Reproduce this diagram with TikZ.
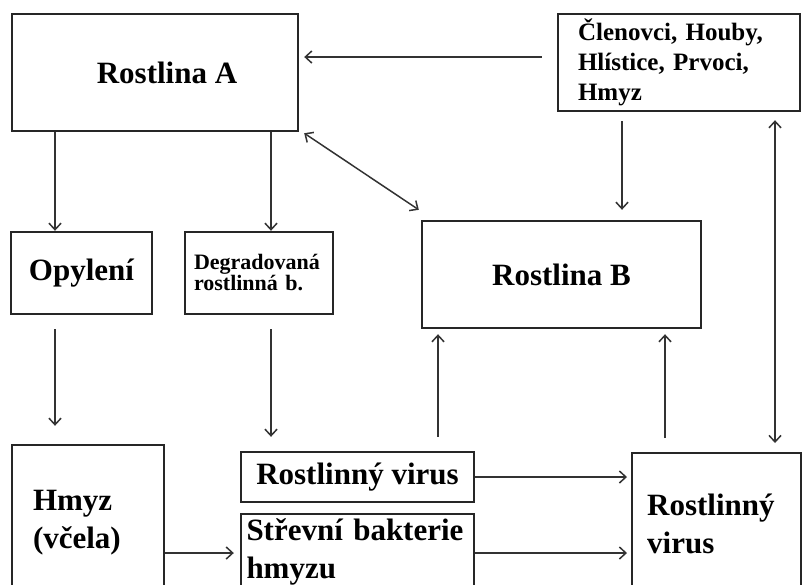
\documentclass[tikz,border=0pt]{standalone}
\usepackage{fontspec}
\setmainfont{Liberation Serif}
\usetikzlibrary{arrows.meta}

\begin{document}
\begin{tikzpicture}[x=1pt, y=-1pt, >={Straight Barb[length=6.5pt,width=12pt]},
  box/.style={draw=black!85, line width=2.4pt, inner sep=0pt, align=center,
    font=\bfseries\fontsize{31}{38}\selectfont},
  txtbox/.style={box, align=left},
  link/.style={->, draw=black!80, line width=1.5pt}]
\useasboundingbox (0,0) rectangle (802,584);
\clip (0,0) rectangle (802,584);
% top row
\node[box, minimum width=286pt, minimum height=117pt] (rostA) at (155,72.5) {\hspace*{24pt}Rostlina A};
\node[txtbox, font=\bfseries\fontsize{25}{30}\selectfont, text width=202pt, inner xsep=20pt,
  minimum height=97pt] (clen) at (679,62.5) {Členovci, Houby,\\Hlístice, Prvoci,\\Hmyz};
% middle row
\node[box, minimum width=141pt, minimum height=82pt] (opyl) at (81.5,273) {Opylení};
\node[txtbox, font=\bfseries\fontsize{22}{21}\selectfont, text width=130pt, inner xsep=9pt,
  minimum height=82pt] (degr) at (259,273) {Degradovaná\\rostlinná b.};
\node[box, minimum width=279pt, minimum height=107pt] (rostB) at (561.5,274.5) {Rostlina B};
% bottom row
\node[txtbox, text width=110pt, inner xsep=21pt, minimum height=156pt] (hmyz) at (88,523) {Hmyz\\(včela)};
\node[box, minimum width=233pt, minimum height=50pt] (virS) at (357.5,477) {Rostlinný virus};
\node[txtbox, text width=222pt, inner xsep=5.5pt, minimum height=76pt, anchor=north]
  (bakt) at (357.5,513) {Střevní bakterie\\hmyzu};
\node[txtbox, text width=139pt, inner xsep=15pt, minimum height=142pt, anchor=north west]
  (virR) at (631,452) {Rostlinný\\virus};
% arrows
\draw[link, shorten <=15pt, shorten >=5pt] (clen.west |- 0,57) -- (rostA.east |- 0,57);
\draw[link] (55,0 |- rostA.south) -- (55,0 |- opyl.north);
\draw[link] (271,0 |- rostA.south) -- (271,0 |- degr.north);
\draw[link, shorten <=14pt, shorten >=18pt] (55,0 |- opyl.south) -- (55,0 |- hmyz.north);
\draw[link, shorten <=14pt, shorten >=14pt] (271,0 |- degr.south) -- (271,0 |- virS.north);
\draw[link, shorten <=14pt, shorten >=5pt] (438,0 |- virS.north) -- (438,0 |- rostB.south);
\draw[link, shorten <=14pt, shorten >=5pt] (665,0 |- virR.north) -- (665,0 |- rostB.south);
\draw[link, <->] ([shift={(5,1)}]rostA.south east) -- ([shift={(-2,-10)}]rostB.north west);
\draw[link, shorten <=9pt, shorten >=10pt] (622,0 |- clen.south) -- (622,0 |- rostB.north);
\draw[link, <->, shorten <=8pt, shorten >=9pt] (775,0 |- clen.south) -- (775,0 |- virR.north);
\draw[link, shorten >=4pt] (virS.east) -- (virS.east -| virR.west);
\draw[link, shorten >=4pt] (bakt.east |- 0,553) -- (virR.west |- 0,553);
\draw[link, shorten >=6pt] (hmyz.east |- 0,553) -- (bakt.west |- 0,553);
\end{tikzpicture}
\end{document}
